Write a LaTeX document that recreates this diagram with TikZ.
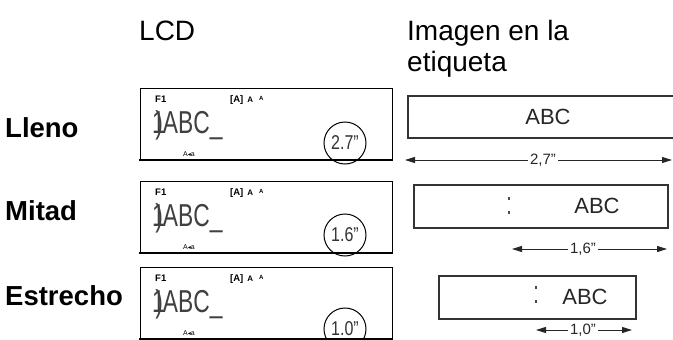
\documentclass[tikz,border=0pt]{standalone}
\usepackage{fontspec}
\setmainfont{Liberation Sans}
\newfontfamily\dejavu{DejaVu Sans}
\usetikzlibrary{arrows.meta}
\begin{document}
\begin{tikzpicture}[x=1pt,y=-1pt,
  hdr/.style={font=\fontsize{28}{30}\selectfont, anchor=base west, inner sep=0},
  rowlab/.style={font=\bfseries\fontsize{27.5}{28}\selectfont, anchor=west, inner sep=0},
  lcdbox/.style={draw, line width=1.1pt, minimum width=252, minimum height=71, anchor=north west, inner sep=0},
  lcdsm/.style={font=\bfseries\fontsize{9.5}{10}\selectfont, anchor=base west, inner sep=0},
  lcdtiny/.style={font=\fontsize{7}{8}\selectfont, anchor=base west, inner sep=0},
  lcdmain/.style={text=black!75, anchor=base west, inner sep=0},
  dial/.style={circle, draw, line width=1pt, minimum size=42, inner sep=0, font=\fontsize{16}{17}\selectfont, text=black!80},
  tape/.style={draw=black!80, line width=1.8pt, anchor=north west, inner sep=0},
  abc/.style={font=\fontsize{22}{24}\selectfont, text=black!85, inner sep=0},
  dim/.style={font=\fontsize{15}{16}\selectfont, text=black!85, inner sep=2pt},
  dimarr/.style={line width=1pt, draw=black!85, -{Triangle[length=10pt,width=6pt]}},
  dots/.style={fill=black!70, minimum width=1.3, minimum height=3, inner sep=0}
]
\useasboundingbox (0,0) rectangle (673,340);

% headers
\node[hdr] (hlcd) at (139,40) {LCD};
\node[hdr] (hima) at (407,40) {Imagen en la};
\node[hdr] (heti) at (407,71) {etiqueta};

% row labels
\node[rowlab] (l1) at (5,128) {Lleno};
\node[rowlab] (l2) at (5,211) {Mitad};
\node[rowlab] (l3) at (5,296) {Estrecho};

% LCD boxes
\newcommand{\lcdrow}[4]{%
  \node[lcdbox] (#1) at (140,#2) {};
  \draw[line width=2.2pt] ([xshift=-1.5pt]#1.south west) -- (#1.south east);
  \node[lcdsm] (#1f) at (155,#2+14) {F1};
  \node[lcdsm] (#1a) at (230,#2+14) {[A]\hspace{4pt}{\fontsize{8}{9}\selectfont A}\hspace{6pt}\raisebox{1.5pt}{\fontsize{6}{7}\selectfont A}};
  \node[lcdmain] (#1t) at (152,#2+45) {\scalebox{0.95}[1.32]{\fontsize{24}{26}\selectfont 1\kern-0.42em)ABC\_}};
  \node[lcdtiny] (#1s) at (183,#2+68) {A{\dejavu\fontsize{6}{7}\selectfont ◂}a};
  \node[dial] (#1c) at (345,#2+#4) {\scalebox{1.0}[1.25]{#3}};
}
\lcdrow{lcdA}{88}{2.7"}{55}
\lcdrow{lcdB}{181}{1.6"}{54}
\lcdrow{lcdC}{267}{1.0"}{62}

% tape images
\node[tape, minimum width=283, minimum height=42] (t1) at (407,95) {};
\node[abc] (a1) at (548,117) {ABC};
\coordinate (t1l) at (405,160);
\coordinate (t1r) at (672,160);
\node[dim] (d1) at (543,160) {2,7"};
\draw[dimarr] (d1.west) -- (t1l);
\draw[dimarr] (d1.east) -- (t1r);

\node[tape, minimum width=254, minimum height=43] (t2) at (413,184) {};
\node[abc] (a2) at (597,206) {ABC};
\node[dots] (p2a) at (509,198) {};
\node[dots] (p2b) at (509,212) {};
\coordinate (t2l) at (512,249);
\coordinate (t2r) at (667,249);
\node[dim] (d2) at (583,249) {1,6"};
\draw[dimarr] (d2.west) -- (t2l);
\draw[dimarr] (d2.east) -- (t2r);

\node[tape, minimum width=197, minimum height=43] (t3) at (438,275) {};
\node[abc] (a3) at (585,297) {ABC};
\node[dots] (p3a) at (536,287) {};
\node[dots] (p3b) at (536,301) {};
\coordinate (t3l) at (536,330);
\coordinate (t3r) at (632,330);
\node[dim] (d3) at (583,330) {1,0"};
\draw[dimarr] (d3.west) -- (t3l);
\draw[dimarr] (d3.east) -- (t3r);
\end{tikzpicture}
\end{document}
